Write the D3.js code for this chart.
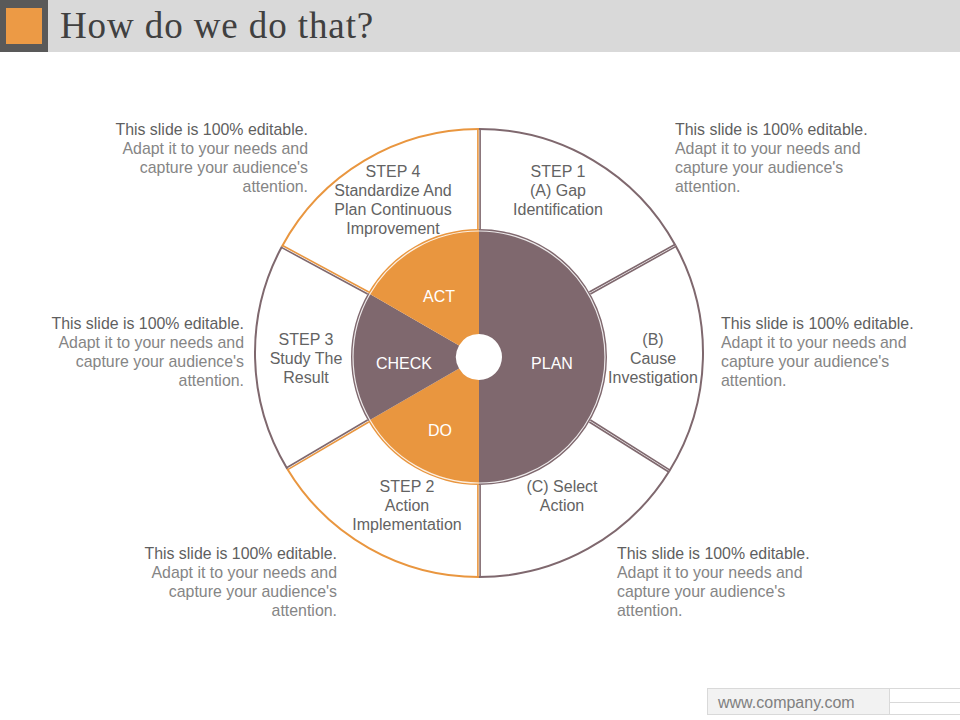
<!DOCTYPE html>
<html><head><meta charset="utf-8">
<script src="https://cdn.jsdelivr.net/npm/d3@7"></script>
<style>html,body{margin:0;padding:0;background:#fff}svg{display:block}text{font-family:"Liberation Sans",Arial,sans-serif}</style>
</head><body><svg id="c" width="960" height="720"></svg>
<script>
const titleText = "How do we do that?";
const footerText = "www.company.com";
const pieLabels = ["PLAN","DO","CHECK","ACT"];
const pieValues = [3,1,1,1];
const pieColors = ["#7f686e","#e9963f","#7f686e","#e9963f"];
const ringColors = ["#7f686e","#7f686e","#7f686e","#e9963f","#7f686e","#e9963f"];
const ringOuterAngles = [0,61.3,121.8,180,238.9,298.4,360];
const ringInnerAngles = [0,60,120,180,240,300,360];
const stepLabels = [
 ["STEP 1","(A) Gap","Identification"],
 ["(B)","Cause","Investigation"],
 ["(C) Select","Action"],
 ["STEP 2","Action","Implementation"],
 ["STEP 3","Study The","Result"],
 ["STEP 4","Standardize And","Plan Continuous","Improvement"]];
const stepX = [558,653,562,407,306,393];
const stepY = [177,345,492,492,345,177];
const noteLines = ["This slide is 100% editable.","Adapt it to your needs and","capture your audience's","attention."];
const noteX = [675,721,617,337,244,308];
const noteY = [135,329,559,559,329,135];
const noteAnchor = ["start","start","start","end","end","end"];

const svg = d3.select("#c");
const rad = d3.scaleLinear().domain([0,360]).range([0,2*Math.PI]);
const cx = 479, pieCy = 357, ringCy = 353;
const R = 224, rIn = 128, rHole = 23;

// header
svg.append("rect").attr("width",960).attr("height",52).attr("fill","#d9d9d9");
svg.append("rect").attr("width",48).attr("height",52).attr("fill","#595959");
svg.append("rect").attr("x",6).attr("y",8).attr("width",36).attr("height",36).attr("fill","#ec9a45");
svg.append("text").attr("x",60).attr("y",38).attr("fill","#404040")
  .style("font-family",'"Liberation Serif",serif').style("font-size","37px").style("letter-spacing","0.9px").text(titleText);

// ring outline
const ring = svg.append("g");
const ringArc = d3.arc().innerRadius(R).outerRadius(R);
const spokeOffset = 1.1;
function spoke(aOuter,aInner,side){
  const [ox,oy] = d3.pointRadial(rad(aOuter),R);
  const [ix,iy] = d3.pointRadial(rad(aInner),rIn);
  const n = rad(aInner);
  const dx = Math.cos(n)*spokeOffset*side, dy = Math.sin(n)*spokeOffset*side;
  return [[cx+ox+dx,ringCy+oy+dy],[cx+ix+dx,pieCy+iy+dy]];
}
ringColors.forEach((col,i)=>{
  ring.append("path").attr("transform",`translate(${cx},${ringCy})`)
    .attr("d",ringArc({startAngle:rad(ringOuterAngles[i]),endAngle:rad(ringOuterAngles[i+1])}))
    .attr("fill","none").attr("stroke",col).attr("stroke-width",2);
  const line = d3.line();
  ring.append("path").attr("d",line(spoke(ringOuterAngles[i],ringInnerAngles[i],1)))
    .attr("stroke",col).attr("stroke-width",1.6).attr("fill","none");
  ring.append("path").attr("d",line(spoke(ringOuterAngles[i+1],ringInnerAngles[i+1],-1)))
    .attr("stroke",col).attr("stroke-width",1.6).attr("fill","none");
});

// pie
const pieG = svg.append("g").attr("transform",`translate(${cx},${pieCy})`);
const pie = d3.pie().sort(null)(pieValues);
const arc = d3.arc().innerRadius(rHole).outerRadius(rIn);
pieG.selectAll("path.s").data(pie).join("path").attr("class","s").attr("d",arc)
  .attr("fill",(d,i)=>pieColors[i]);
const sep = d3.arc().innerRadius(rIn-2).outerRadius(rIn-2);
pieG.selectAll("path.w").data(pie).join("path").attr("class","w").attr("d",sep)
  .attr("fill","none").attr("stroke","#fff").attr("stroke-opacity",0.85).attr("stroke-width",1.2);
const labelPos = [[73,12],[-39,79],[-75,12],[-40,-55]];
pieG.selectAll("text").data(pieLabels).join("text")
  .attr("x",(d,i)=>labelPos[i][0]).attr("y",(d,i)=>labelPos[i][1])
  .attr("text-anchor","middle").attr("fill","#fff").style("font-size","16px").text(d=>d);

// step labels
stepLabels.forEach((lines,i)=>{
  const t = svg.append("text").attr("text-anchor","middle").attr("fill","#636363").style("font-size","16px");
  lines.forEach((s,j)=>t.append("tspan").attr("x",stepX[i]).attr("y",stepY[i]+j*19).text(s));
});

// notes
noteX.forEach((x,i)=>{
  const t = svg.append("text").attr("text-anchor",noteAnchor[i]).style("font-size","15.9px");
  noteLines.forEach((s,j)=>t.append("tspan").attr("x",x).attr("y",noteY[i]+j*19)
    .attr("fill",j===0?"#5f5f5f":"#858585").text(s));
});

// footer
svg.append("rect").attr("x",707.5).attr("y",688.5).attr("width",182).attr("height",26).attr("fill","#f2f2f2").attr("stroke","#d9d9d9");
[688.5,702.5,714.5].forEach(y=>svg.append("line").attr("x1",890).attr("x2",960).attr("y1",y).attr("y2",y).attr("stroke","#d9d9d9"));
svg.append("text").attr("x",718).attr("y",708).attr("fill","#808080").style("font-size","16px").text(footerText);
</script></body></html>
